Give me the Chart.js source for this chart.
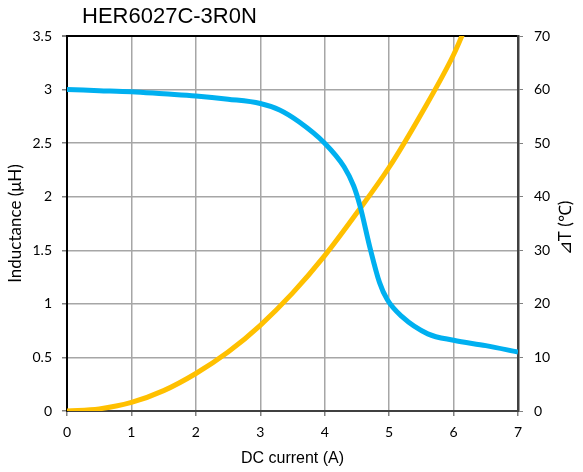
<!DOCTYPE html>
<html>
<head>
<meta charset="utf-8">
<script src="https://cdn.jsdelivr.net/npm/chart.js@4/dist/chart.umd.min.js"></script>
<style>
  body { margin: 0; background: #fff; }
  #wrap { width: 583px; height: 472px; }
</style>
</head>
<body>
<div id="wrap"><canvas id="myChart" width="583" height="472"></canvas></div>
<script>
// values
var chartTitle = "HER6027C-3R0N";
var currentL = [0, 0.5, 1, 1.5, 2, 2.5, 3, 3.3, 3.6, 4, 4.3, 4.45, 4.55, 4.7, 4.85, 4.97, 5.2, 5.6, 6, 6.5, 7];
var inductance = [3.0, 2.99, 2.98, 2.96, 2.94, 2.91, 2.87, 2.81, 2.70, 2.50, 2.28, 2.10, 1.91, 1.53, 1.2, 1.04, 0.88, 0.72, 0.66, 0.61, 0.55];
var currentT = [0, 0.5, 1, 1.5, 2, 2.5, 3, 3.5, 4, 4.5, 5, 5.5, 6, 6.2];
var tempRise = [0, 0.4, 1.6, 3.8, 7, 11, 16, 22, 29, 37, 45.5, 55.5, 66.5, 72];

var ptsL = [];
for (var i = 0; i < currentL.length; i++) { ptsL.push({x: currentL[i], y: inductance[i]}); }
var ptsT = [];
for (var j = 0; j < currentT.length; j++) { ptsT.push({x: currentT[j], y: tempRise[j]}); }

var tickFont = { family: 'Lato', size: 14 };

// title + right axis title (reads bottom to top)
var extraText = {
  id: 'extraText',
  afterDraw: function (chart) {
    var ctx = chart.ctx;
    ctx.save();
    ctx.fillStyle = '#000';
    ctx.font = '22px "Liberation Sans"';
    ctx.textBaseline = 'middle';
    ctx.textAlign = 'left';
    ctx.fillText(chartTitle, 82, 17);
    ctx.translate(566, 228);
    ctx.rotate(-Math.PI / 2);
    ctx.textAlign = 'center';
    ctx.font = '17px Lato';
    ctx.fillText('⊿T (℃)', 0, 0);
    ctx.restore();
  }
};

var ctx = document.getElementById('myChart').getContext('2d');
var demoChart = new Chart(ctx, {
  type: 'line',
  data: {
    datasets: [
      {
        label: 'Inductance',
        data: ptsL,
        yAxisID: 'y',
        borderColor: '#00B0F0',
        borderWidth: 5,
        pointRadius: 0,
        fill: false,
        cubicInterpolationMode: 'monotone'
      },
      {
        label: 'Temp rise',
        data: ptsT,
        yAxisID: 'y2',
        borderColor: '#FFC000',
        borderWidth: 5,
        pointRadius: 0,
        fill: false,
        cubicInterpolationMode: 'monotone'
      }
    ]
  },
  options: {
    responsive: false,
    animation: false,
    layout: { padding: { top: 36, left: 0, right: 0, bottom: 0 } },
    plugins: {
      legend: { display: false },
      tooltip: { enabled: false }
    },
    scales: {
      x: {
        type: 'linear',
        min: 0,
        max: 7,
        ticks: { stepSize: 1, color: '#000', font: tickFont, padding: 8 },
        grid: { color: '#a6a6a6', lineWidth: 1.5, tickLength: 5, tickColor: '#808080' },
        border: { color: '#404040', width: 2 },
        title: { display: true, text: 'DC current (A)', color: '#000', font: { family: 'Liberation Sans', size: 16 }, padding: { top: 0, bottom: 4 } },
        afterFit: function (s) { s.height = 61; }
      },
      y: {
        position: 'left',
        min: 0,
        max: 3.5,
        ticks: {
          stepSize: 0.5, color: '#000', font: tickFont, padding: 10,
          callback: function (v) { return String(v); }
        },
        grid: {
          color: function (c) { return c.tick && c.tick.value === 3.5 ? '#000' : '#a6a6a6'; },
          lineWidth: function (c) { return c.tick && c.tick.value === 3.5 ? 2 : 1.5; },
          tickLength: 5,
          tickColor: '#808080'
        },
        border: { color: '#000', width: 2 },
        title: { display: true, text: 'Inductance (μH)', color: '#000', font: { family: 'Lato', size: 17 }, padding: { top: 5, bottom: 0 } },
        afterFit: function (s) { s.width = 67; }
      },
      y2: {
        position: 'right',
        min: 0,
        max: 70,
        ticks: { stepSize: 10, color: '#000', font: tickFont, padding: 11 },
        grid: { drawOnChartArea: false, tickLength: 5, tickColor: '#808080' },
        border: { color: '#404040', width: 2.5 },
        afterFit: function (s) { s.width = 65; }
      }
    }
  },
  plugins: [extraText]
});
</script>
</body>
</html>
